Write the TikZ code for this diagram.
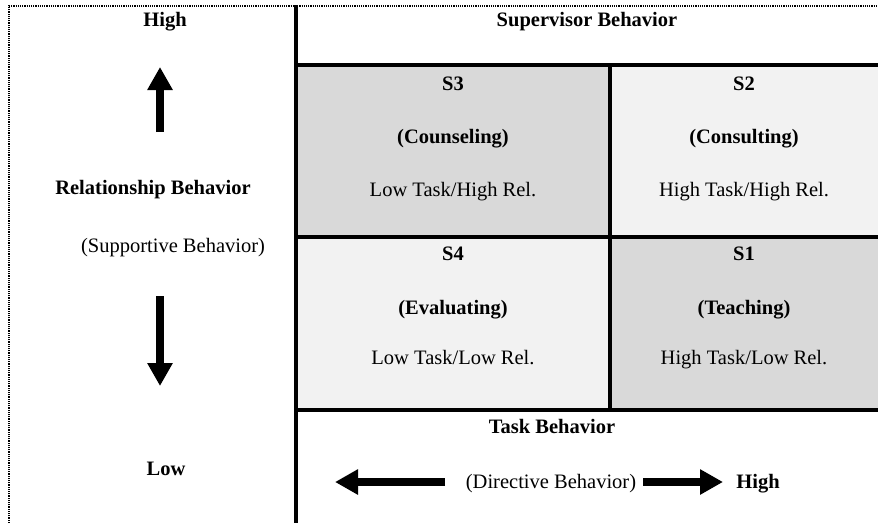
\documentclass[tikz,border=0pt]{standalone}
\usepackage{fontspec}
\setmainfont{Liberation Serif}
\usetikzlibrary{arrows.meta}
\definecolor{darkcell}{HTML}{D9D9D9}
\definecolor{lightcell}{HTML}{F2F2F2}
\begin{document}
\begin{tikzpicture}[x=1pt,y=-1pt,
  txt/.style={inner sep=0pt,text height=0.7em,text depth=0.2em,font=\fontsize{20.5}{24}\selectfont},
  btxt/.style={txt,font=\fontsize{20.5}{24}\selectfont\bfseries},
  cell/.style={draw=none,inner sep=0pt,anchor=north west},
  grid/.style={line width=3.5pt},
  barrow/.style={line width=8.5pt,-{Triangle[width=24pt,length=23pt]}},
  dotline/.style={line width=1.6pt,dash pattern=on 1.3pt off 0.9pt}]
\useasboundingbox (0,0) rectangle (878,523);
% cells
\node[cell,fill=darkcell,minimum width=314pt,minimum height=172pt] (c3) at (296,65) {};
\node[cell,fill=lightcell,minimum width=268pt,minimum height=172pt] (c2) at (610,65) {};
\node[cell,fill=lightcell,minimum width=314pt,minimum height=173pt] (c4) at (296,237) {};
\node[cell,fill=darkcell,minimum width=268pt,minimum height=173pt] (c1) at (610,237) {};
% dotted frame
\draw[dotline] (9,523) -- (9,6) -- (876,6);
% grid lines
\draw[grid] (296,5) -- (296,523);
\draw[grid] (296,65) -- (878,65);
\draw[grid] (296,237) -- (878,237);
\draw[grid] (296,410) -- (878,410);
\draw[grid] (610,65) -- (610,410);
% left column texts
\node[btxt] (hi) at (165,24) {High};
\node[btxt] (rel) at (153,192) {Relationship Behavior};
\node[txt] (sup) at (173,250) {(Supportive Behavior)};
\node[btxt] (lo) at (166,473) {Low};
\node[btxt] (sb) at (587,24) {Supervisor Behavior};
% cells text
\node[btxt] (s3) at (453,88) {S3};
\node[btxt] (s3b) at (453,141) {(Counseling)};
\node[txt] (s3c) at (453,194) {Low Task/High Rel.};
\node[btxt] (s2) at (744,88) {S2};
\node[btxt] (s2b) at (744,141) {(Consulting)};
\node[txt] (s2c) at (744,194) {High Task/High Rel.};
\node[btxt] (s4) at (453,258) {S4};
\node[btxt] (s4b) at (453,312) {(Evaluating)};
\node[txt] (s4c) at (453,362) {Low Task/Low Rel.};
\node[btxt] (s1) at (744,258) {S1};
\node[btxt] (s1b) at (744,312) {(Teaching)};
\node[txt] (s1c) at (744,362) {High Task/Low Rel.};
% bottom texts
\node[btxt] (tb) at (552,431) {Task Behavior};
\node[txt] (db) at (551,486) {(Directive Behavior)};
\node[btxt] (hi2) at (758,486) {High};
% arrows
\coordinate (upS) at (160,132);
\coordinate (upT) at (160,67);
\coordinate (dnS) at (160,296);
\coordinate (dnT) at (160,386);
\coordinate (lfS) at (445,482);
\coordinate (lfT) at (335,482);
\coordinate (rtS) at (643,482);
\coordinate (rtT) at (723,482);
\draw[barrow] (upS) -- (upT);
\draw[barrow] (dnS) -- (dnT);
\draw[barrow] (lfS) -- (lfT);
\draw[barrow] (rtS) -- (rtT);
\end{tikzpicture}
\end{document}
